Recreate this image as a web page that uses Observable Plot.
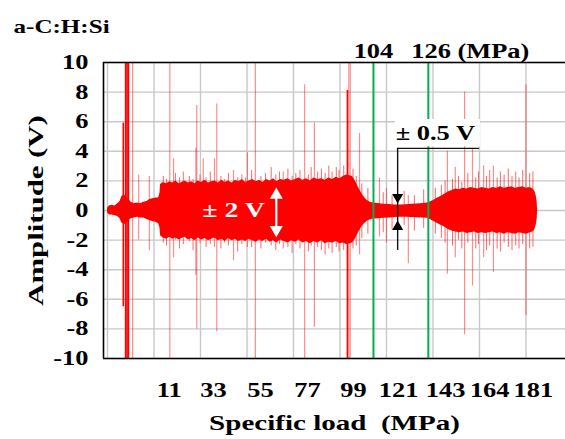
<!DOCTYPE html>
<html><head><meta charset="utf-8">
<script src="https://cdn.jsdelivr.net/npm/d3@7"></script>
<script src="https://cdn.jsdelivr.net/npm/@observablehq/plot@0.6"></script>
<style>body{margin:0;background:#fff} svg{display:block}</style>
</head><body><div id="chart"></div>
<script>
// ---------- data ----------
const title = "a-C:H:Si";
const yLabel = "Amplitude (V)";
const xLabel = "Specific load  (MPa)";
const yTicks = [-10, -8, -6, -4, -2, 0, 2, 4, 6, 8, 10];
const gridX = [0, 100, 200, 300, 400, 500, 600, 700, 800, 900];
const xTickPos = [133, 228, 329, 430, 529, 626, 727, 822, 916];
const xTickLabels = ["11", "33", "55", "77", "99", "121", "143", "164", "181"];
const markerPos = [572, 690];
const markerLabels = ["104", "126 (MPa)"];

// envelope of the dense signal band
const bandX = [0,4,10,16,22,27,31,36,41,46,51,57,64,71,78,85,91,97,104,110,113,
  114,120,127,134,140,147,154,160,167,174,181,188,195,202,210,217,224,231,238,246,
  253,260,268,275,282,290,297,304,312,320,327,334,342,350,357,364,372,380,388,396,
  404,412,420,428,436,444,452,460,468,476,484,492,500,507,514,521,527,533,
  539,545,551,558,565,572,582,594,606,618,630,642,654,666,678,688,694,701,709,717,
  725,733,741,749,757,765,773,781,789,797,805,813,821,829,837,845,853,861,869,877,
  885,893,901,909,915,919,922,924,925];
const bandUpper = [0.15,0.3,0.35,0.3,0.45,0.6,0.95,1.05,0.95,0.75,0.55,0.45,0.5,0.45,0.55,0.6,0.75,0.8,0.85,0.85,1.2,
  1.75,1.9,1.8,1.95,1.85,2.0,1.8,1.9,2.0,1.85,1.95,1.8,2.0,1.9,2.05,1.85,1.95,2.0,1.85,2.05,
  1.9,2.0,1.85,2.05,1.95,2.1,1.9,2.0,2.1,1.95,2.05,1.9,2.1,2.0,2.15,1.95,2.1,2.05,2.15,2.0,
  2.1,2.2,2.05,2.15,2.0,2.2,2.1,2.15,2.05,2.2,2.1,2.25,2.15,2.3,2.4,2.35,2.3,2.0,
  1.6,1.25,0.95,0.7,0.55,0.5,0.47,0.43,0.4,0.38,0.37,0.39,0.42,0.44,0.47,0.5,0.58,0.68,0.82,0.95,
  1.1,1.25,1.35,1.45,1.4,1.5,1.45,1.55,1.5,1.45,1.55,1.5,1.45,1.55,1.5,1.6,1.5,1.55,1.6,1.5,
  1.55,1.6,1.5,1.55,1.45,1.3,1.0,0.6,0];
const bandLower = [-0.15,-0.3,-0.3,-0.35,-0.4,-0.55,-0.85,-0.95,-0.9,-0.7,-0.55,-0.5,-0.45,-0.5,-0.5,-0.6,-0.7,-0.75,-0.8,-0.9,-1.2,
  -1.7,-1.85,-1.95,-1.8,-1.95,-1.85,-2.0,-1.9,-1.8,-2.0,-1.9,-2.05,-1.85,-2.0,-1.9,-2.05,-1.95,-1.85,-2.05,-1.95,
  -2.1,-1.9,-2.05,-1.95,-2.1,-2.0,-2.1,-1.95,-2.05,-2.15,-2.0,-2.1,-1.95,-2.15,-2.05,-2.2,-2.0,-2.1,-2.2,-2.05,
  -2.15,-2.0,-2.2,-2.1,-2.25,-2.1,-2.2,-2.05,-2.25,-2.15,-2.2,-2.1,-2.25,-2.2,-2.3,-2.25,-2.2,-1.95,
  -1.55,-1.2,-0.95,-0.75,-0.62,-0.58,-0.55,-0.52,-0.5,-0.47,-0.45,-0.46,-0.47,-0.49,-0.5,-0.52,-0.6,-0.72,-0.86,-1.0,
  -1.12,-1.28,-1.38,-1.45,-1.5,-1.45,-1.55,-1.5,-1.45,-1.55,-1.5,-1.55,-1.5,-1.45,-1.55,-1.5,-1.6,-1.5,-1.55,-1.6,
  -1.5,-1.55,-1.6,-1.5,-1.45,-1.3,-1.0,-0.6,0];

// isolated bursts (light red)
const spikeX      = [54, 67, 90, 134, 142, 190, 192, 206, 230, 235, 271, 301, 318, 378, 424, 445, 519, 522, 542, 585, 600, 647, 731, 748, 768, 785, 809, 830, 900];
const spikeTop    = [10, 2.4, 2.3, 10, 3.5, 4.2, 7.1, 3.5, 3.5, 7.2, 2.7, 3.9, 10, 2.6, 8.5, 5.9, 10, 10, 5.2, 2.2, 1.5, 1.0, 4.0, 2.9, 8.0, 4.2, 3.0, 3.0, 8.5];
const spikeBottom = [-10, -2.0, -2.7, -10, -3.2, -4.4, -8.0, -2.0, -2.5, -8.2, -3.4, -2.5, -10, -2.6, -10, -7.9, -10, -10, -3.0, -1.8, -2.2, -3.6, -4.3, -3.2, -8.4, -5.1, -3.2, -4.2, -7.1];

// strong bursts (solid red)
const strongX      = [34, 39, 42, 45, 516];
const strongTop    = [5.9, 10, 10, 10, 8.1];
const strongBottom = [-6.5, -10, -10, -10, -10];

// short excursions along the band edges
const fuzzX      = [120,127,146,155,163,176,184,199,212,221,244,252,260,280,289,297,310,330,340,352,362,370,388,397,405,414,432,438,452,460,468,476,483,492,498,508,528,535,547,560,593,612,638,660,680,705,718,726,742,755,762,775,792,798,815,822,838,845,853,862,870,878,885,893,908,915];
const fuzzTop    = [2.3,2.1,2.5,2.2,2.6,2.3,2.1,2.4,2.2,2.6,2.3,2.1,2.5,2.2,2.4,2.2,2.7,2.3,2.5,2.9,2.4,2.6,2.8,2.3,2.5,2.7,2.4,2.9,2.6,2.8,2.5,3.0,2.6,2.9,2.7,3.0,2.8,2.3,1.8,1.5,1.2,1.0,1.3,1.0,1.4,1.5,1.7,2.0,2.1,2.3,1.9,2.5,2.2,2.6,2.3,2.7,2.2,2.6,2.4,2.8,2.3,2.6,2.2,2.7,2.5,2.6];
const fuzzBottom = [-2.2,-2.4,-2.0,-2.6,-2.3,-2.1,-2.7,-2.2,-2.5,-2.3,-2.6,-2.2,-2.4,-2.8,-2.3,-2.1,-2.5,-2.6,-2.2,-2.4,-2.7,-2.3,-2.5,-2.9,-2.3,-2.6,-2.8,-2.4,-2.5,-2.7,-3.0,-2.6,-2.9,-2.5,-2.8,-2.7,-2.6,-2.4,-1.9,-1.6,-1.5,-1.3,-1.0,-1.4,-1.2,-1.6,-1.9,-2.2,-2.4,-2.0,-2.6,-2.2,-2.6,-2.3,-2.7,-2.4,-2.6,-2.8,-2.2,-2.5,-2.7,-2.4,-2.6,-2.3,-2.6,-2.5];

// annotations (data space)
const noteLabels = ["± 2 V", "± 0.5 V"];
const noteX = [271, 705];
const noteY = [0, 5.2];
const whiteArrowX = 363, whiteArrowTop = 1.05, whiteArrowBottom = -1.3;
const calloutX = [624, 800], calloutY = [4.2, -2.7];
const blackArrowTop = 0.9, blackArrowBottom = -1.1;
const calloutBox = {x1: 619, x2: 802, y1: 4.3, y2: 6.15};

// ---------- build ----------
const band = bandX.map((x, i) => ({x, hi: bandUpper[i], lo: bandLower[i]}));
const spikes = spikeX.map((x, i) => ({x, hi: spikeTop[i], lo: spikeBottom[i]}));
const strong = strongX.map((x, i) => ({x, hi: strongTop[i], lo: strongBottom[i]}));
const fuzz = fuzzX.map((x, i) => ({x, hi: fuzzTop[i], lo: fuzzBottom[i]}));
const RED = "#ff0000", GREEN = "#00b050", GRID = "#c8c8c8";
const triDown = {draw(ctx, size) {const h = Math.sqrt(size / (3 * Math.sqrt(3))); ctx.moveTo(0, 2 * h); ctx.lineTo(-Math.sqrt(3) * h, -h); ctx.lineTo(Math.sqrt(3) * h, -h); ctx.closePath();}};
const FONT = "'Liberation Serif', 'Times New Roman', serif";

const svg = Plot.plot({
  width: 565, height: 439,
  marginLeft: 103, marginRight: 0, marginTop: 62, marginBottom: 81,
  x: {domain: [-8.6, 985], axis: null},
  y: {domain: [-10, 10], axis: null},
  style: {fontFamily: FONT, fontWeight: "bold", background: "white", overflow: "visible", color: "black"},
  marks: [
    Plot.ruleY(yTicks, {stroke: GRID, strokeWidth: 1.4}),
    Plot.ruleX(gridX, {stroke: GRID, strokeWidth: 1.4}),
    Plot.ruleX(fuzz, {x: "x", y1: "lo", y2: "hi", stroke: RED, strokeOpacity: 0.6, strokeWidth: 1}),
    Plot.ruleX(spikes, {x: "x", y1: "lo", y2: "hi", stroke: RED, strokeOpacity: 0.45, strokeWidth: 1.2}),
    Plot.areaY(band, {x: "x", y1: "lo", y2: "hi", fill: RED, curve: "linear"}),
    Plot.ruleX(strong, {x: "x", y1: "lo", y2: "hi", stroke: RED, strokeWidth: 1.6}),
    Plot.ruleX(markerPos, {stroke: GREEN, strokeWidth: 2}),
    // white ±2 V arrow
    Plot.ruleX([whiteArrowX], {y1: whiteArrowBottom, y2: whiteArrowTop, stroke: "white", strokeWidth: 2.2}),
    Plot.dot([whiteArrowTop], {x: whiteArrowX, y: d => d, symbol: "triangle", r: 4.8, fill: "white", stroke: "none"}),
    Plot.dot([whiteArrowBottom], {x: whiteArrowX, y: d => d, symbol: triDown, r: 4.8, fill: "white", stroke: "none"}),
    Plot.text([noteLabels[0]], {x: noteX[0], y: noteY[0], text: d => d, fill: "white", fontSize: 21}),
    // black ±0.5 V callout
    Plot.rect([calloutBox], {x1: "x1", x2: "x2", y1: "y1", y2: "y2", fill: "white"}),
    Plot.ruleX([calloutX[0]], {y1: calloutY[1], y2: calloutY[0], stroke: "#111", strokeWidth: 1.4}),
    Plot.ruleY([calloutY[0]], {x1: calloutX[0], x2: calloutX[1], stroke: "#111", strokeWidth: 1.4}),
    Plot.dot([blackArrowTop], {x: calloutX[0], y: d => d, symbol: triDown, r: 4.1, fill: "black", stroke: "none"}),
    Plot.dot([blackArrowBottom], {x: calloutX[0], y: d => d, symbol: "triangle", r: 4.1, fill: "black", stroke: "none"}),
    Plot.text([noteLabels[1]], {x: noteX[1], y: noteY[1], text: d => d, fill: "black", fontSize: 20}),
    // frame
    Plot.ruleY([-10, 10], {stroke: "#000", strokeWidth: 1.6}),
    Plot.ruleX([-8.6], {stroke: "#000", strokeWidth: 1.6}),
    // axes text
    Plot.text(yTicks, {y: d => d, frameAnchor: "left", dx: -15, textAnchor: "end", text: d => String(d), fontSize: 20}),
    Plot.text(xTickPos, {x: d => d, frameAnchor: "bottom", dy: 38, text: (d, i) => xTickLabels[i], fontSize: 20}),
    Plot.text([xLabel], {frameAnchor: "bottom", dy: 71, text: d => d, fontSize: 22}),
    Plot.text([yLabel], {frameAnchor: "left", dx: -68, rotate: -90, textAnchor: "middle", text: d => d, fontSize: 22}),
    Plot.text([title], {frameAnchor: "top-left", dx: -90, dy: -43, textAnchor: "start", text: d => d, fontSize: 19}),
    Plot.text([markerPos[0]], {x: d => d, frameAnchor: "top", dy: -19, text: (d) => markerLabels[0], fontSize: 20}),
    Plot.text([markerPos[1]], {x: d => d, frameAnchor: "top", dy: -19, dx: -17, textAnchor: "start", text: (d) => markerLabels[1], fontSize: 20})
  ]
});
document.getElementById("chart").append(svg);
// widen glyphs to match the wide serif lettering of the original
const STRETCH = 1.32;
svg.querySelectorAll("text").forEach(t => {
  const tr = t.getAttribute("transform") || "";
  if (tr.includes("rotate")) {
    t.setAttribute("transform", tr + " scale(1.4,1)");
    return;
  }
  const w = t.getComputedTextLength();
  if (w > 0) {
    t.setAttribute("textLength", (w * STRETCH).toFixed(1));
    t.setAttribute("lengthAdjust", "spacingAndGlyphs");
  }
});
</script></body></html>
